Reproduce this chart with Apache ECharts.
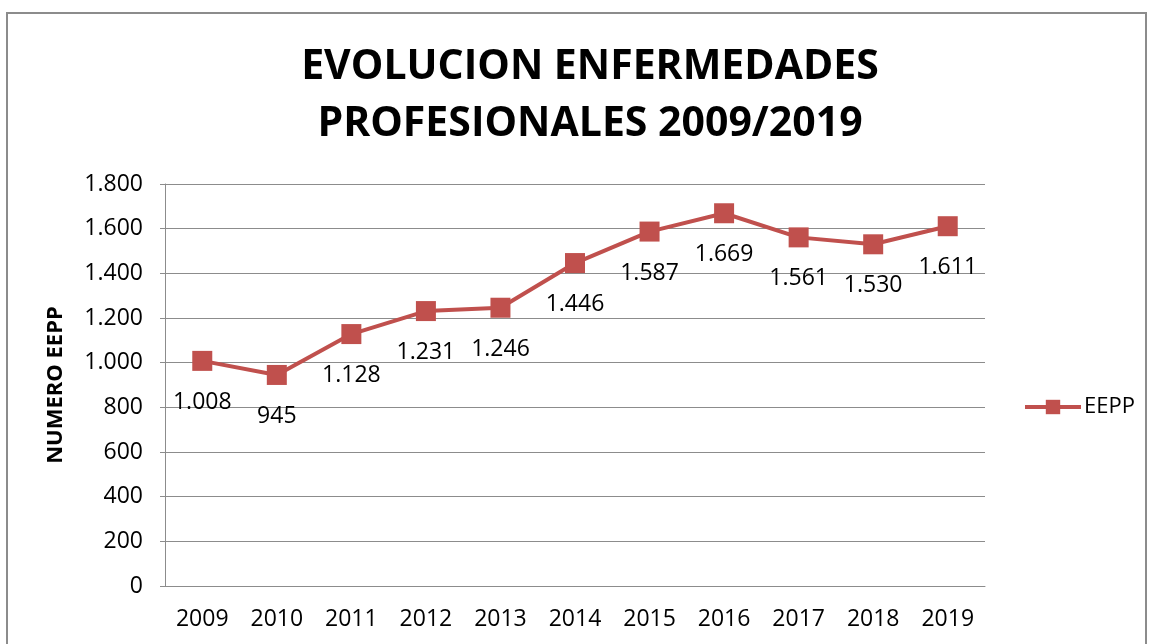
<!DOCTYPE html>
<html>
<head>
<meta charset="utf-8">
<script src="https://cdn.jsdelivr.net/npm/echarts@6/dist/echarts.min.js"></script>
<style>
  html, body { margin: 0; padding: 0; background: #fff; }
  #main { width: 1151px; height: 644px; }
</style>
</head>
<body>
<div id="main"></div>
<script>
// datos del grafico
var years = ['2009', '2010', '2011', '2012', '2013', '2014', '2015', '2016', '2017', '2018', '2019'];
var eepp = [1008, 945, 1128, 1231, 1246, 1446, 1587, 1669, 1561, 1530, 1611];

var FONT = '"Open Sans", "Liberation Sans", sans-serif';

//formato con punto de miles
function miles(v) {
    return String(v).replace(/\B(?=(\d{3})+(?!\d))/g, '.');
}

var chart = echarts.init(document.getElementById('main'));

chart.setOption({
    backgroundColor: '#fff',
    animation: false,
    title: {
        text: 'EVOLUCION ENFERMEDADES\nPROFESIONALES 2009/2019',
        left: 585,
        top: 34,
        textAlign: 'center',
        textStyle: {
            fontFamily: FONT,
            fontWeight: 'bold',
            fontSize: 41,
            lineHeight: 57,
            color: '#000'
        }
    },
    graphic: [{
        type: 'rect',
        shape: {x: 7, y: 13, width: 1139, height: 640},
        style: {fill: 'none', stroke: '#8c8c8c', lineWidth: 2},
        silent: true
    }],
    legend: {
        left: 1018,
        top: 391,
        data: ['EEPP'],
        itemWidth: 56,
        itemHeight: 18,
        itemGap: 4,
        lineStyle: {width: 4},
        textStyle: {fontFamily: FONT, fontSize: 22, color: '#000', padding: [0, 0, 0, -2]}
    },
    grid: {left: 165, right: 166, top: 184, bottom: 58},
    xAxis: {
        type: 'category',
        data: years,
        boundaryGap: true,
        axisLine: {lineStyle: {color: '#8c8c8c', width: 1}},
        axisTick: {show: false},
        axisLabel: {fontFamily: FONT, fontSize: 23, color: '#000', margin: 22}
    },
    yAxis: {
        type: 'value',
        min: 0,
        max: 1800,
        interval: 200,
        name: 'NUMERO EEPP',
        nameLocation: 'middle',
        nameGap: 98,
        nameTextStyle: {fontFamily: FONT, fontWeight: 'bold', fontSize: 22, color: '#000'},
        axisLine: {show: true, lineStyle: {color: '#8c8c8c'}},
        axisTick: {show: true, length: 5, lineStyle: {color: '#8c8c8c'}},
        axisLabel: {fontFamily: FONT, fontSize: 23, color: '#000', margin: 22, formatter: miles},
        splitLine: {lineStyle: {color: '#8c8c8c', width: 1}}
    },
    series: [{
        name: 'EEPP',
        type: 'line',
        data: eepp,
        symbol: 'rect',
        symbolSize: 20,
        color: '#c0504d',
        lineStyle: {width: 4, color: '#c0504d'},
        itemStyle: {color: '#c0504d'},
        label: {
            show: true,
            position: 'bottom',
            distance: 20,
            fontFamily: FONT,
            fontSize: 23,
            color: '#000',
            formatter: function (p) { return miles(p.value); }
        }
    }]
});
</script>
</body>
</html>
